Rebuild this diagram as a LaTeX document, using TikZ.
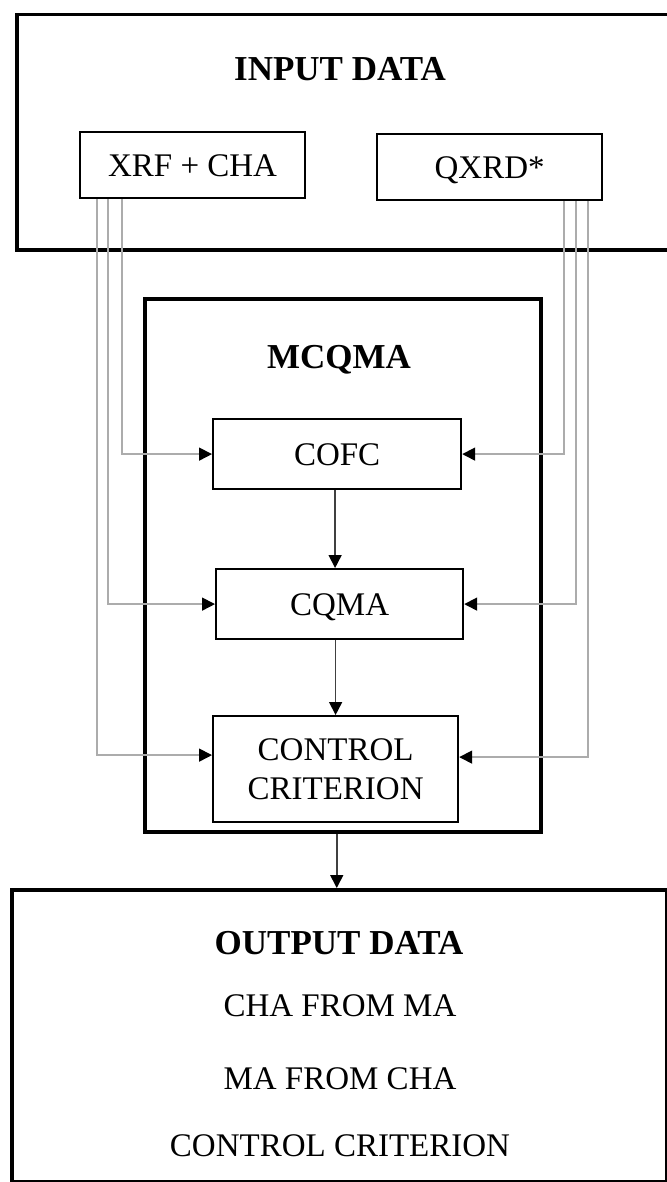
\documentclass[tikz,border=0pt]{standalone}
\usepackage{fontspec}
\setmainfont{Liberation Serif}
\usetikzlibrary{arrows.meta,positioning}

\tikzset{
  frame/.style={draw, line width=3.5pt, anchor=north west},
  stage/.style={draw, line width=2.2pt, anchor=north west, align=center,
    text depth=0pt, font=\fontsize{33}{39}\selectfont},
  heading/.style={text depth=0pt, font=\bfseries\fontsize{35}{40}\selectfont},
  result/.style={text depth=0pt, font=\fontsize{33}{39}\selectfont},
  tip/.style={-{Triangle[length=13pt,width=13pt,color=black]}},
  feed/.style={tip, draw=gray!65, line width=1.6pt},
  flow/.style={tip, draw=black!75, line width=1.6pt}
}

\begin{document}
\begin{tikzpicture}[x=1pt,y=-1pt]
  \useasboundingbox (0,0) rectangle (666,1182);

  % input block
  \node[frame, minimum width=657, minimum height=235] (input) at (15,13) {};
  \node[heading] (intitle) at (340,69) {INPUT DATA};
  \node[stage, minimum width=225, minimum height=66] (xrf) at (79,131) {XRF + CHA};
  \node[stage, minimum width=225, minimum height=66] (qxrd) at (376,133) {QXRD*};

  % MCQMA block
  \node[frame, minimum width=396, minimum height=533] (mcqma) at (143,297) {};
  \node[heading] (mtitle) at (339,357) {MCQMA};
  \node[stage, minimum width=248, minimum height=70] (cofc) at (212,418) {COFC};
  \node[stage, minimum width=247, minimum height=70] (cqma) at (215,568) {CQMA};
  \node[stage, minimum width=245, minimum height=106] (ctrl) at (212,715) {CONTROL\\CRITERION};

  % output block
  \node[frame, minimum width=655, minimum height=292] (output) at (10,888) {};
  \node[heading] (otitle) at (339,943) {OUTPUT DATA};
  \node[result] (res1) at (340,1006) {CHA FROM MA};
  \node[result] (res2) at (340,1079) {MA FROM CHA};
  \node[result] (res3) at (340,1146) {CONTROL CRITERION};

  % inputs fed to every stage
  \draw[feed] ([xshift=43]xrf.south west) |- (cofc.west);
  \draw[feed] ([xshift=29]xrf.south west) |- (cqma.west);
  \draw[feed] ([xshift=18]xrf.south west) |- ([yshift=14]ctrl.west);
  \draw[feed] ([xshift=-39]qxrd.south east) |- (cofc.east);
  \draw[feed] ([xshift=-27]qxrd.south east) |- (cqma.east);
  \draw[feed] ([xshift=-15]qxrd.south east) |- ([yshift=12]ctrl.east);

  % main flow
  \draw[flow] ([xshift=-2]cofc.south) -- ([xshift=-2]cofc.south |- cqma.north);
  \draw[flow] ([xshift=-4]cqma.south) -- ([xshift=-4]cqma.south |- ctrl.north);
  \draw[flow] ([xshift=-6]mcqma.south) -- ([xshift=-6]mcqma.south |- output.north);
\end{tikzpicture}
\end{document}
